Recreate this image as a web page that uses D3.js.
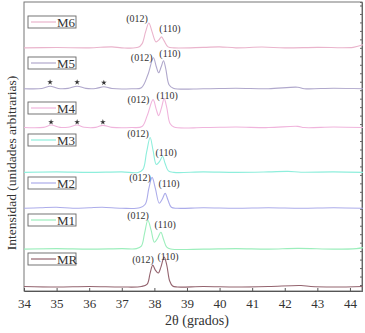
<!DOCTYPE html>
<html>
<head>
<meta charset="utf-8">
<script src="https://cdn.jsdelivr.net/npm/d3@7"></script>
<style>
  body{margin:0;background:#fff;}
</style>
</head>
<body>
<svg id="xrd"></svg>
<script>
var FONT = "'Liberation Serif','Times New Roman',serif";

// series names, top to bottom
var names = ['M6','M5','M4','M3','M2','M1','MR'];
var colors = ['#eab4cc','#b0a8cc','#f0b4dc','#8eeedc','#acacea','#9ceebc','#94646f'];
// vertical offset of each pattern (arbitrary units)
var offsets = [24.4, 20.3, 16.4, 11.9, 8.3, 4.2, 0.4];

// [2theta, intensity above own baseline]
var m6 = [[34,0],[35,0.03],[36,0],[36.7,0.1],[37,0],[37.5,0.05],[37.62,0.4],[37.73,1.6],[37.83,2.5],[37.93,1.6],[38.05,0.6],[38.14,0.8],[38.22,1.1],[38.3,0.7],[38.42,0.1],[38.6,0],[39.5,0.05],[40,0.1],[40.5,0],[41.3,0.08],[42,0],[43,0.05],[44.1,0.05],[44.4,0.3]];
var m5 = [[34,0],[34.55,0.02],[34.8,0.25],[35.05,0.02],[35.35,0.03],[35.63,0.25],[35.9,0.03],[36.2,0.02],[36.45,0.2],[36.7,0.02],[37.3,0],[37.6,0.1],[37.8,1.4],[37.97,3.1],[38.06,2.2],[38.13,1.6],[38.21,2.2],[38.28,2.8],[38.35,2.0],[38.45,0.4],[38.58,0.05],[39.5,0],[40.5,0.05],[41.5,0],[42.4,0.15],[42.6,0],[43.5,0.05],[44.4,0]];
var m4 = [[34,0],[34.6,0.02],[34.83,0.25],[35.1,0.02],[35.35,0.03],[35.63,0.25],[35.85,0.03],[36.2,0.02],[36.42,0.22],[36.7,0.02],[37.3,0],[37.62,0.1],[37.78,1.2],[37.96,2.8],[38.06,1.8],[38.13,1.2],[38.22,2.0],[38.3,2.9],[38.38,2.0],[38.48,0.4],[38.6,0.05],[39.5,0],[40.5,0.05],[41.5,0],[42.4,0.12],[42.6,0],[43.5,0.05],[44.4,0]];
var m3 = [[34,0],[35,0.05],[36,0],[37,0.05],[37.5,0],[37.65,0.3],[37.76,2.0],[37.87,3.5],[37.96,2.2],[38.06,0.8],[38.16,1.1],[38.25,1.6],[38.33,0.9],[38.43,0.15],[38.6,0],[39.5,0.05],[40.5,0],[41.5,0.05],[42.1,0.1],[42.5,0.02],[43.5,0.05],[44.4,0]];
var m2 = [[34,0],[34.5,0.05],[35,0.1],[35.5,0],[36,0.05],[36.4,0.1],[37,0],[37.55,0.05],[37.72,0.4],[37.83,2.0],[37.93,3.1],[38.03,2.0],[38.15,0.5],[38.24,0.9],[38.33,1.5],[38.42,0.8],[38.52,0.1],[38.7,0],[39.5,0.05],[40.5,0],[41.5,0.05],[42.5,0],[43.5,0.05],[44.4,0]];
var m1 = [[34,0],[35,0.05],[36,0],[37,0.05],[37.45,0.05],[37.6,0.3],[37.7,1.6],[37.8,2.9],[37.9,1.9],[38.0,0.7],[38.1,1.1],[38.2,1.7],[38.28,1.0],[38.38,0.2],[38.5,0.02],[39.5,0],[40.5,0.05],[41.5,0],[42.4,0.08],[43.5,0],[44.2,0.05],[44.4,0.15]];
var mr = [[34,0.05],[35,0],[36,0.05],[37,0],[37.6,0.05],[37.78,0.3],[37.87,1.4],[37.95,2.2],[38.03,1.7],[38.12,1.4],[38.2,2.0],[38.3,3.0],[38.38,2.2],[38.47,0.6],[38.56,0.1],[38.7,0],[39.5,0.05],[40.5,0],[41.5,0.05],[42.5,0.15],[42.8,0.05],[43.5,0],[44.4,0.05]];
var patterns = [m6, m5, m4, m3, m2, m1, mr];

// peak label anchors [2theta, intensity above baseline] for (012) and (110)
var lab012 = [[37.47,2.9],[37.61,3.1],[37.51,2.8],[37.5,3.9],[37.56,3.1],[37.5,3.4],[37.65,2.8]];
var lab110 = [[38.48,1.9],[38.48,3.5],[38.39,3.2],[38.36,2.0],[38.45,2.5],[38.33,2.5],[38.42,3.1]];

// impurity marks (*) on M5 and M4
var starsM5 = [[34.8,0.65],[35.63,0.65],[36.45,0.6]];
var starsM4 = [[34.83,0.55],[35.63,0.55],[36.42,0.55]];

var xTicks = [34,35,36,37,38,39,40,41,42,43,44];

var W = 365, H = 333;
var margin = {top: 2, left: 24, right: 3, bottom: 42};
var width = W - margin.left - margin.right;
var height = H - margin.top - margin.bottom;

var svg = d3.select('#xrd')
    .attr('width', W)
    .attr('height', H)
    .append('g')
    .attr('transform', 'translate(' + margin.left + ',' + margin.top + ')');

var xScale = d3.scaleLinear().domain([34, 44.37]).range([0, width]);
var yScale = d3.scaleLinear().domain([0, 29]).range([height, 0]);

// frame
svg.append('rect')
    .attr('width', width)
    .attr('height', height)
    .attr('fill', 'none')
    .attr('stroke', '#777')
    .attr('stroke-width', 1);

// bottom axis, ticks inside
var xAxis = d3.axisBottom(xScale)
    .tickValues(xTicks)
    .tickSize(-3)
    .tickPadding(8)
    .tickFormat(d3.format('d'));

var gx = svg.append('g')
    .attr('transform', 'translate(0,' + height + ')')
    .call(xAxis);
gx.select('.domain').attr('stroke', '#555');
gx.selectAll('.tick line').attr('stroke', '#555');
gx.selectAll('.tick text')
    .attr('fill', '#333')
    .style('font-family', FONT)
    .style('font-size', '13px');

// right axis, small inward ticks without labels
var yAxisR = d3.axisLeft(yScale)
    .tickValues(d3.range(0.6, 29, 0.85))
    .tickSize(2)
    .tickFormat('');
var gy = svg.append('g')
    .attr('transform', 'translate(' + width + ',0)')
    .call(yAxisR);
gy.select('.domain').attr('stroke', '#666');
gy.selectAll('.tick line').attr('stroke', '#666');

// patterns
var line = d3.line()
    .x(function(d){ return xScale(d[0]); })
    .y(function(d){ return yScale(d[1]); })
    .curve(d3.curveCatmullRom.alpha(0.5));

patterns.forEach(function(p, i){
    var shifted = p.map(function(d){ return [d[0], d[1] + offsets[i]]; });
    svg.append('path')
        .attr('class', 'line ' + names[i])
        .attr('d', line(shifted))
        .attr('fill', 'none')
        .attr('stroke', colors[i])
        .attr('stroke-width', 1.1);
});

// peak labels
names.forEach(function(n, i){
    svg.append('text')
        .attr('x', xScale(lab012[i][0]))
        .attr('y', yScale(lab012[i][1] + offsets[i]))
        .attr('text-anchor', 'middle')
        .attr('dominant-baseline', 'central')
        .style('font-family', FONT)
        .style('font-size', '10px')
        .attr('fill', '#333')
        .text('(012)');
    svg.append('text')
        .attr('x', xScale(lab110[i][0]))
        .attr('y', yScale(lab110[i][1] + offsets[i]))
        .attr('text-anchor', 'middle')
        .attr('dominant-baseline', 'central')
        .style('font-family', FONT)
        .style('font-size', '10px')
        .attr('fill', '#333')
        .text('(110)');
});

// asterisks
var star = d3.symbol().type(d3.symbolStar).size(10);
[[starsM5, offsets[1]], [starsM4, offsets[2]]].forEach(function(s){
    svg.selectAll(null)
        .data(s[0])
        .enter()
        .append('path')
        .attr('d', star)
        .attr('transform', function(d){ return 'translate(' + xScale(d[0]) + ',' + yScale(d[1] + s[1]) + ')'; })
        .attr('fill', '#333');
});

// legend boxes (pixel centres, as in the figure)
var legendY = [22, 63, 108, 140, 183, 220, 259];
names.forEach(function(n, i){
    var g = svg.append('g')
        .attr('transform', 'translate(4,' + (legendY[i] - margin.top) + ')');
    g.append('rect')
        .attr('x', 0).attr('y', -6)
        .attr('width', 48).attr('height', 12)
        .attr('fill', '#fff')
        .attr('stroke', '#666')
        .attr('stroke-width', 0.9);
    g.append('line')
        .attr('x1', 3).attr('x2', 28)
        .attr('y1', 0).attr('y2', 0)
        .attr('stroke', colors[i])
        .attr('stroke-width', 1.2);
    g.append('text')
        .attr('x', 29).attr('y', 0.5)
        .attr('dominant-baseline', 'central')
        .style('font-family', FONT)
        .style('font-size', '13px')
        .attr('fill', '#333')
        .text(n);
});

// axis titles
svg.append('text')
    .attr('x', width / 2 + 4)
    .attr('y', height + 34)
    .attr('text-anchor', 'middle')
    .style('font-family', FONT)
    .style('font-size', '14px')
    .attr('fill', '#333')
    .text('2θ (grados)');

svg.append('text')
    .attr('transform', 'translate(' + (-13) + ',' + (163 - margin.top) + ') rotate(-90)')
    .attr('text-anchor', 'middle')
    .attr('dominant-baseline', 'central')
    .style('font-family', FONT)
    .style('font-size', '13.5px')
    .attr('fill', '#333')
    .text('Intensidad (unidades arbitrarias)');
</script>
</body>
</html>
